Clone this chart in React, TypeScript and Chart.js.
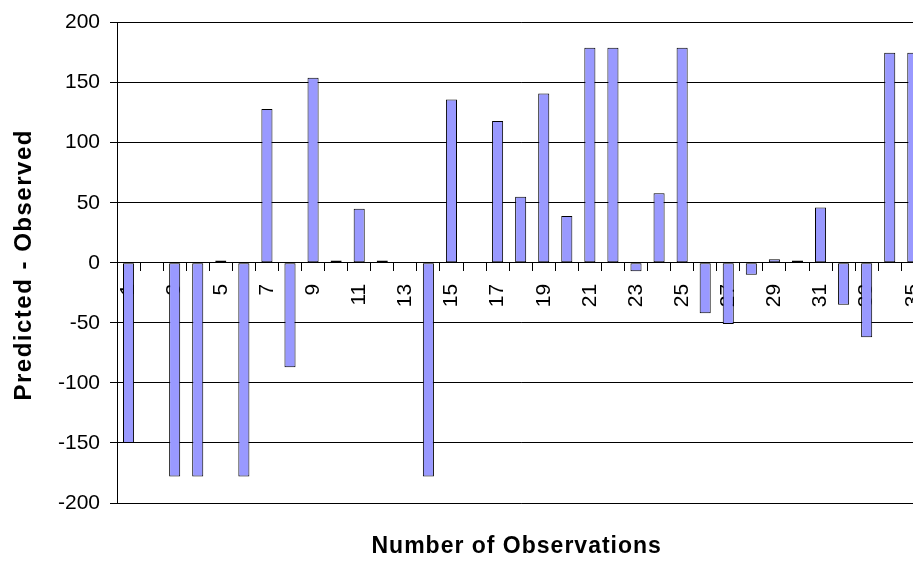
import React, { useEffect, useRef } from "react";
import { Chart, registerables } from "chart.js";

Chart.register(...registerables);

const observations: string[] = [
  "1", "2", "3", "4", "5", "6", "7", "8", "9", "10",
  "11", "12", "13", "14", "15", "16", "17", "18", "19", "20",
  "21", "22", "23", "24", "25", "26", "27", "28", "29", "30",
  "31", "32", "33", "34", "35",
];

const residuals: number[] = [
  -150, 0, -178, -178, 2, -178, 128, -87, 154, 2,
  45, 2, 0, -178, 136, 0, 118, 55, 141, 39,
  179, 179, -7, 58, 179, -42, -51, -10, 3, 2,
  46, -35, -62, 175, 175,
];

const yTicks: number[] = [-200, -150, -100, -50, 0, 50, 100, 150, 200];

const yTitle = "Predicted - Observed";
const xTitle = "Number of Observations";

const FONT = 'Arial, "Liberation Sans", sans-serif';

const axisTitlesPlugin = {
  id: "axisTitles",
  afterDraw(chart: any) {
    const { ctx, chartArea } = chart;
    ctx.save();
    ctx.fillStyle = "#000";
    ctx.textAlign = "center";
    ctx.textBaseline = "middle";
    // x-axis title
    ctx.font = `bold 23px ${FONT}`;
    (ctx as any).letterSpacing = "1px";
    ctx.fillText(xTitle, (chartArea.left + chartArea.right) / 2 - 4, chartArea.bottom + 44);
    // y-axis title
    ctx.font = `bold 24px ${FONT}`;
    (ctx as any).letterSpacing = "1.5px";
    ctx.translate(24, (chartArea.top + chartArea.bottom) / 2 + 2);
    ctx.rotate(-Math.PI / 2);
    ctx.fillText(yTitle, 0, 0);
    ctx.restore();
  },
};

export default function App() {
  const canvasRef = useRef<HTMLCanvasElement | null>(null);

  useEffect(() => {
    const canvas = canvasRef.current;
    if (!canvas) return;
    const chart = new Chart(canvas, {
      type: "bar",
      data: {
        labels: observations,
        datasets: [
          {
            data: residuals,
            backgroundColor: "#9999FF",
            borderColor: "#000000",
            borderWidth: 1,
            borderSkipped: false,
            barPercentage: 0.48,
            categoryPercentage: 1,
          },
        ],
      },
      options: {
        responsive: false,
        animation: false,
        devicePixelRatio: 1,
        layout: { padding: { left: 0, right: 0, top: 22, bottom: 62 } },
        plugins: {
          legend: { display: false },
          tooltip: { enabled: false },
          title: { display: false },
        },
        scales: {
          x: {
            type: "category",
            position: { y: 0 },
            z: 1,
            offset: true,
            grid: {
              display: true,
              offset: true,
              drawOnChartArea: false,
              drawTicks: true,
              tickLength: 8,
              color: "#000",
              lineWidth: 1,
            },
            border: { display: true, color: "#000", width: 1 },
            ticks: {
              autoSkip: false,
              minRotation: 90,
              maxRotation: 90,
              padding: 13,
              color: "#000",
              font: { family: FONT, size: 21 },
              callback: (_v: any, i: number) => (i % 2 === 0 ? observations[i] : ""),
            },
          },
          y: {
            min: yTicks[0],
            max: yTicks[yTicks.length - 1],
            afterFit: (scale: any) => {
              scale.width = 117;
            },
            afterBuildTicks: (scale: any) => {
              scale.ticks = yTicks.map((v) => ({ value: v }));
            },
            grid: {
              color: "#000",
              lineWidth: 1,
              drawTicks: true,
              tickLength: 7,
            },
            border: { display: true, color: "#000", width: 1 },
            ticks: {
              padding: 10,
              color: "#000",
              font: { family: FONT, size: 21 },
            },
            title: { display: false },
          },
        },
      },
      plugins: [axisTitlesPlugin],
    });
    return () => chart.destroy();
  }, []);

  return (
    <div
      style={{
        position: "fixed",
        left: 0,
        top: 0,
        width: 913,
        height: 565,
        overflow: "hidden",
        background: "#fff",
      }}
    >
      <canvas ref={canvasRef} width={951} height={565} style={{ width: 951, height: 565, display: "block" }} />
    </div>
  );
}
